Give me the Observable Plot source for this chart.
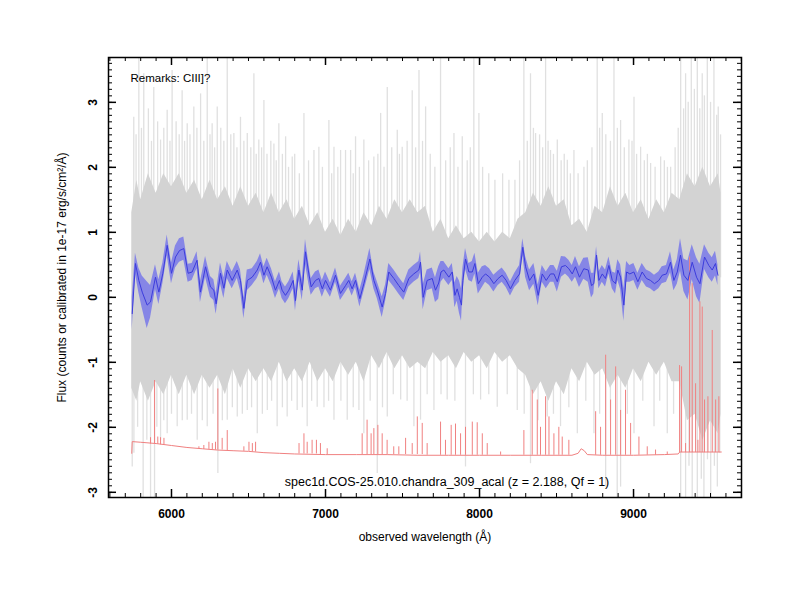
<!DOCTYPE html>
<html><head><meta charset="utf-8">
<script src="https://cdn.jsdelivr.net/npm/d3@7"></script>
<script src="https://cdn.jsdelivr.net/npm/@observablehq/plot@0.6"></script>
<style>body{margin:0;background:#fff} svg{display:block}</style>
</head><body><div id="chart"></div>
<script>
// ---- smoothed spectrum (blue) ----
const blueWave = [5745,5766,5788,5810,5842,5864,5896,5918,5944,5972,6000,6026,6052,6080,6108,6134,6166,6188,6221,6253,6275,6290,6318,6340,6362,6394,6427,6448,6470,6492,6524,6557,6578,6600,6621,6649,6675,6701,6718,6740,6762,6790,6805,6827,6849,6870,6892,6907,6935,6957,6979,7000,7032,7065,7097,7130,7151,7173,7195,7223,7249,7288,7314,7336,7368,7390,7411,7444,7476,7508,7541,7573,7606,7617,7634,7660,7693,7714,7735,7750,7768,7801,7823,7840,7855,7870,7883,7892,7909,7931,7953,7970,7992,8018,8039,8065,8093,8121,8147,8173,8201,8229,8260,8281,8299,8325,8353,8381,8407,8433,8461,8483,8505,8532,8558,8580,8602,8623,8649,8677,8706,8727,8742,8760,8775,8797,8818,8840,8862,8883,8898,8916,8937,8955,8976,9002,9028,9056,9084,9110,9136,9164,9186,9214,9240,9262,9284,9305,9327,9353,9381,9409,9431,9461,9489,9511,9532,9548];
const blueFlux = [-0.25,0.52,0.26,0.08,-0.12,-0.07,0.31,0.08,0.37,0.80,0.37,0.62,0.72,0.75,0.37,0.39,0.57,0.08,0.47,0.16,0.11,-0.10,0.37,0.14,0.42,0.26,0.42,0.26,-0.17,0.26,0.31,0.42,0.54,0.34,0.47,0.31,0.11,0.26,0.11,0.03,0.11,0.26,-0.05,0.42,0.11,0.70,0.36,0.16,0.26,0.29,0.13,0.26,0.11,0.34,0.06,0.18,0.26,0.13,0.26,-0.02,0.21,0.59,0.26,0.11,-0.15,0.06,0.39,0.29,0.18,0.08,0.29,0.36,0.42,0.54,0.00,0.26,0.29,0.11,0.22,0.39,0.42,0.31,0.39,0.03,0.13,0.00,-0.12,0.26,0.59,0.39,0.39,0.52,0.21,0.31,0.36,0.31,0.21,0.29,0.34,0.26,0.13,0.26,0.36,0.77,0.47,0.26,0.36,0.03,0.36,0.26,0.36,0.36,0.24,0.47,0.49,0.44,0.36,0.47,0.31,0.44,0.42,0.18,0.21,0.65,0.26,0.36,0.29,0.49,0.26,0.21,0.42,0.31,-0.12,0.39,0.36,0.39,0.24,0.39,0.29,0.26,0.21,0.26,0.34,0.36,0.54,0.26,0.39,0.65,0.34,0.26,0.54,0.31,0.21,0.62,0.49,0.42,0.52,0.34];
const blueErr = [0.25,0.16,0.19,0.25,0.36,0.25,0.19,0.19,0.16,0.16,0.16,0.17,0.18,0.18,0.14,0.13,0.13,0.16,0.16,0.16,0.16,0.16,0.16,0.16,0.13,0.13,0.13,0.16,0.16,0.16,0.13,0.13,0.13,0.13,0.13,0.13,0.13,0.13,0.13,0.13,0.13,0.13,0.16,0.16,0.16,0.19,0.16,0.13,0.13,0.13,0.13,0.13,0.11,0.11,0.11,0.11,0.11,0.11,0.11,0.13,0.13,0.16,0.13,0.13,0.16,0.13,0.13,0.13,0.13,0.13,0.13,0.13,0.13,0.16,0.19,0.16,0.16,0.19,0.25,0.16,0.13,0.13,0.13,0.19,0.19,0.25,0.25,0.19,0.16,0.13,0.16,0.16,0.16,0.16,0.13,0.13,0.13,0.11,0.11,0.11,0.11,0.11,0.13,0.13,0.16,0.16,0.16,0.16,0.13,0.13,0.13,0.13,0.16,0.16,0.13,0.13,0.13,0.16,0.16,0.16,0.19,0.19,0.16,0.13,0.13,0.13,0.13,0.13,0.13,0.16,0.16,0.19,0.25,0.16,0.13,0.13,0.13,0.13,0.13,0.13,0.13,0.13,0.13,0.13,0.16,0.16,0.19,0.25,0.25,0.30,0.27,0.30,0.30,0.19,0.19,0.19,0.19,0.16];

// ---- raw spectrum (gray): dense core envelope ----
const coreWave = [5742,5775,5800,5850,5900,5950,6000,6050,6100,6150,6200,6250,6300,6350,6400,6450,6500,6550,6600,6650,6700,6750,6800,6850,6900,6950,7000,7050,7100,7150,7200,7250,7300,7350,7400,7450,7500,7550,7600,7650,7700,7750,7800,7850,7900,7950,8000,8050,8100,8150,8200,8250,8300,8350,8400,8450,8500,8550,8600,8650,8700,8750,8800,8850,8900,8950,9000,9050,9100,9150,9200,9250,9300,9350,9400,9450,9500,9550,9568];
const coreHi = [1.3,1.8,1.5,1.9,1.6,1.9,1.7,1.9,1.6,1.8,1.5,1.8,1.5,1.7,1.4,1.7,1.4,1.6,1.3,1.6,1.3,1.5,1.2,1.4,1.1,1.3,1.0,1.2,0.95,1.2,1.0,1.3,1.1,1.4,1.2,1.5,1.3,1.5,1.3,1.4,1.0,1.2,0.9,1.1,0.9,1.0,0.85,1.0,0.85,1.0,0.9,1.2,1.3,1.6,1.4,1.7,1.4,1.5,1.1,1.2,1.0,1.4,1.3,1.7,1.4,1.6,1.3,1.5,1.2,1.5,1.3,1.6,1.5,1.9,1.7,2.0,1.7,1.9,1.6];
const coreLo = [-1.4,-1.6,-1.3,-1.6,-1.3,-1.5,-1.2,-1.5,-1.2,-1.5,-1.2,-1.4,-1.2,-1.5,-1.1,-1.4,-1.1,-1.3,-1.1,-1.3,-1.0,-1.3,-1.1,-1.3,-1.0,-1.3,-1.1,-1.3,-1.0,-1.2,-1.0,-1.3,-0.9,-1.1,-0.85,-1.1,-0.9,-1.1,-1.0,-1.1,-0.85,-1.0,-0.9,-1.1,-0.85,-1.0,-0.9,-1.1,-0.85,-1.0,-0.9,-1.1,-1.2,-1.5,-1.3,-1.6,-1.3,-1.5,-1.1,-1.3,-1.0,-1.2,-1.1,-1.4,-1.2,-1.4,-1.1,-1.3,-1.0,-1.2,-1.0,-1.3,-1.3,-1.9,-1.8,-2.2,-1.9,-2.1,-1.8];
// upward noise spikes
const upWave = [5755,5770,5788,5805,5820,5850,5870,5885,5910,5929,5950,5972,5990,6004,6030,6050,6069,6085,6102,6120,6145,6165,6189,6210,6232,6250,6264,6280,6297,6320,6340,6362,6385,6405,6425,6448,6470,6492,6515,6535,6550,6567,6585,6600,6620,6645,6665,6680,6697,6720,6741,6760,6784,6800,6830,6860,6890,6925,6957,6980,7022,7040,7055,7080,7098,7130,7163,7180,7195,7220,7249,7280,7314,7340,7358,7380,7401,7430,7466,7480,7498,7530,7563,7585,7607,7630,7650,7680,7710,7747,7780,7810,7834,7860,7888,7920,7940,7963,7996,8020,8060,8100,8150,8191,8230,8260,8288,8310,8331,8350,8364,8390,8410,8429,8445,8461,8480,8505,8530,8550,8570,8590,8613,8640,8678,8700,8730,8764,8780,8797,8820,8850,8873,8895,8916,8940,8970,8990,9003,9020,9046,9070,9090,9111,9140,9176,9200,9220,9241,9270,9290,9306,9325,9338,9355,9375,9395,9414,9430,9446,9460,9479,9500,9522,9540,9550,9565];
const upTop = [2.77,2.5,3.8,2.6,3.44,2.9,2.4,3.23,2.7,2.42,2.6,2.88,2.4,3.49,2.7,2.5,3.18,2.4,2.67,2.5,2.93,2.6,3.13,2.4,3.8,2.5,2.67,2.3,2.93,2.6,2.4,3.8,2.5,2.52,2.3,2.77,2.4,2.52,2.3,3.44,2.2,2.42,2.3,3.03,2.2,2.4,2.36,2.1,2.67,2.2,2.47,2.0,2.16,2.2,1.9,2.83,2.1,2.26,2.31,2.0,2.72,1.9,2.31,2.0,2.26,2.26,2.26,1.9,2.47,2.0,2.42,2.1,2.16,2.2,2.83,2.0,3.23,2.3,2.57,2.2,2.31,2.4,3.18,2.3,3.49,2.4,2.93,2.2,2.0,3.8,2.1,2.3,2.52,2.0,2.47,2.1,2.3,3.8,2.83,2.0,1.9,1.8,1.9,1.8,1.8,2.1,3.8,2.4,3.44,2.6,2.52,2.5,2.3,3.8,2.4,2.26,2.2,2.42,2.1,2.2,2.11,1.9,2.26,1.9,2.0,2.1,2.3,3.8,2.6,2.83,2.5,2.4,3.8,2.6,2.72,2.3,2.42,2.4,3.08,2.2,2.31,2.1,2.2,2.06,2.0,2.16,2.1,2.0,2.0,2.3,2.6,3.8,2.9,3.44,3.0,3.8,3.2,3.8,2.9,3.44,3.1,3.8,3.0,3.8,2.8,2.93,2.5];
// downward noise spikes
const downWave = [5745,5756,5780,5816,5840,5864,5890,5905,5929,5950,5972,6000,6037,6070,6102,6130,6167,6200,6232,6270,6301,6330,6362,6395,6427,6460,6492,6520,6557,6590,6622,6650,6686,6720,6751,6780,6816,6850,6881,6910,6946,6990,7020,7055,7100,7141,7180,7217,7249,7290,7336,7370,7401,7440,7488,7530,7574,7617,7660,7704,7750,7790,7840,7909,7960,8007,8060,8115,8180,8245,8290,8331,8380,8440,8480,8526,8580,8635,8690,8743,8780,8819,8850,8894,8916,8960,9003,9060,9133,9170,9219,9260,9306,9338,9360,9381,9414,9440,9457,9480,9501,9525,9544,9560];
const downBot = [-2.61,-2.40,-2.0,-3.2,-2.2,-3.2,-3.2,-2.0,-2.20,-1.9,-2.10,-1.8,-1.99,-1.9,-1.89,-1.8,-2.20,-1.9,-1.99,-1.8,-2.71,-1.9,-1.89,-1.7,-1.84,-1.8,-1.74,-1.7,-2.10,-1.8,-1.74,-1.6,-1.99,-1.7,-1.84,-1.6,-1.74,-1.7,-1.99,-1.6,-1.69,-1.7,-1.6,-1.89,-1.6,-1.89,-1.7,-1.74,-2.10,-1.6,-2.71,-1.7,-1.84,-1.5,-1.58,-1.6,-1.99,-1.89,-1.5,-1.74,-1.5,-1.58,-1.6,-2.61,-1.5,-1.58,-1.5,-1.69,-1.5,-1.74,-1.8,-2.56,-1.9,-1.84,-1.8,-1.99,-1.7,-2.10,-1.6,-2.10,-1.8,-2.92,-1.9,-3.2,-2.92,-1.8,-2.10,-1.6,-1.99,-1.6,-2.10,-1.8,-3.2,-3.2,-2.6,-3.2,-3.2,-2.8,-3.2,-2.5,-3.2,-2.6,-2.92,-2.4];

// ---- sky spectrum (red) ----
const skyBaseWave = [5742,5745,5800,5900,6000,6100,6200,6300,6400,6500,6600,6700,6800,7000,7200,7400,7600,7800,8000,8200,8400,8600,8640,8660,8680,8700,8800,9000,9200,9290,9300,9400,9570];
const skyBaseFlux = [-2.40,-2.22,-2.23,-2.25,-2.28,-2.31,-2.33,-2.35,-2.36,-2.37,-2.39,-2.40,-2.41,-2.42,-2.42,-2.42,-2.43,-2.43,-2.43,-2.43,-2.43,-2.43,-2.40,-2.33,-2.36,-2.42,-2.43,-2.43,-2.42,-2.41,-2.38,-2.38,-2.38];
const skyLineWave = [5864,5890,5911,5929,5951,6178,6210,6243,6265,6286,6301,6329,6362,6470,6503,6525,6546,6828,6860,6881,6913,6941,6967,7011,7238,7270,7296,7314,7340,7368,7400,7443,7476,7520,7563,7596,7628,7660,7747,7779,7816,7844,7877,7909,7953,7985,8018,8050,8137,8288,8342,8375,8396,8429,8451,8483,8515,8537,8580,8754,8786,8819,8851,8884,8916,8948,8981,9035,9089,9143,9219,9299,9312,9338,9364,9381,9403,9418,9431,9446,9461,9483,9511,9533,9554];
const skyLinePeak = [-2.16,-1.28,-2.15,-2.16,-2.17,-2.30,-2.28,-2.23,-2.25,-2.23,-1.41,-2.17,-2.05,-2.30,-2.23,-2.25,-2.23,-2.25,-2.10,-2.23,-2.20,-2.20,-2.25,-2.33,-2.10,-1.89,-2.10,-2.02,-1.97,-2.10,-2.20,-2.30,-2.30,-2.17,-2.25,-1.84,-1.94,-2.25,-1.92,-2.20,-1.97,-1.95,-2.10,-2.00,-1.92,-1.93,-2.10,-2.25,-2.38,-2.05,-1.43,-1.58,-2.00,-1.53,-1.84,-2.10,-2.00,-2.15,-2.20,-1.76,-2.00,-0.89,-1.58,-1.07,-1.74,-1.43,-1.94,-2.15,-2.30,-2.35,-2.38,-1.05,-1.07,-2.25,0.62,0.21,-1.33,-2.20,-0.07,-0.15,-1.58,-1.53,-0.51,-1.58,-1.53];
const skyLineBase = [-2.26,-2.26,-2.26,-2.27,-2.27,-2.33,-2.34,-2.34,-2.35,-2.35,-2.35,-2.35,-2.36,-2.37,-2.37,-2.38,-2.38,-2.41,-2.41,-2.41,-2.41,-2.41,-2.42,-2.42,-2.42,-2.42,-2.42,-2.42,-2.42,-2.42,-2.42,-2.42,-2.42,-2.42,-2.42,-2.42,-2.42,-2.43,-2.43,-2.43,-2.43,-2.43,-2.43,-2.43,-2.43,-2.43,-2.43,-2.43,-2.43,-2.43,-2.43,-2.43,-2.43,-2.43,-2.43,-2.43,-2.43,-2.43,-2.43,-2.43,-2.43,-2.43,-2.43,-2.43,-2.43,-2.43,-2.43,-2.43,-2.43,-2.43,-2.42,-2.39,-2.39,-2.39,-2.39,-2.39,-2.39,-2.39,-2.39,-2.39,-2.39,-2.39,-2.39,-2.39,-2.39];

// ---- axes ----
const xMajor = [6000,7000,8000,9000];
const yMajor = [-3,-2,-1,0,1,2,3];
const xMinor = d3.range(5600, 9701, 100);
const yMinor = d3.range(-30, 37).map(d => d / 10);

const remarks = "Remarks: CIII]?";
const caption = "spec1d.COS-25.010.chandra_309_acal (z = 2.188, Qf = 1)";
const xTitle = "observed wavelength (Å)";
const yTitle = "Flux (counts or calibrated in 1e-17 erg/s/cm²/Å)";

// ---- build tables ----
const blue = blueWave.map((x, i) => ({x, y: blueFlux[i], lo: blueFlux[i] - blueErr[i], hi: blueFlux[i] + blueErr[i]}));
const core = coreWave.map((x, i) => ({x, lo: coreLo[i], hi: coreHi[i]}));
const spikes = upWave.map((x, i) => ({x, a: 0.3, b: upTop[i]}))
  .concat(downWave.map((x, i) => ({x, a: 0.1, b: downBot[i]})));
const skyBase = skyBaseWave.map((x, i) => ({x, y: skyBaseFlux[i]}));
const skyLines = skyLineWave.map((x, i) => ({x, base: skyLineBase[i], peak: skyLinePeak[i]}));

const W = 800, H = 600, mL = 108, mR = 59, mT = 57, mB = 103;
const iW = W - mL - mR, iH = H - mT - mB;
const font = "'Liberation Sans', Arial, Helvetica, sans-serif";

const chart = Plot.plot({
  width: W, height: H,
  marginLeft: mL, marginRight: mR, marginTop: mT, marginBottom: mB,
  style: {fontFamily: font, background: "white", color: "black"},
  x: {domain: [5591, 9701], axis: null},
  y: {domain: [-3.08, 3.69], axis: null},
  marks: [
    Plot.ruleX(spikes, {x: "x", y1: "a", y2: "b", stroke: "#e0e0e0", strokeWidth: 1.3, clip: true}),
    Plot.areaY(core, {x: "x", y1: "lo", y2: "hi", fill: "#d3d3d3"}),
    Plot.areaY(blue, {x: "x", y1: "lo", y2: "hi", fill: "#8686e6"}),
    Plot.line(skyBase, {x: "x", y: "y", stroke: "#f08080", strokeWidth: 1}),
    Plot.ruleX(skyLines, {x: "x", y1: "base", y2: "peak", stroke: "#f08080", strokeWidth: 1}),
    Plot.line(blue, {x: "x", y: "y", stroke: "#3c3cdc", strokeWidth: 1}),
    // ticks, inward on all four sides
    Plot.ruleX(xMinor, {x: d => d, insetTop: iH - 4, stroke: "black"}),
    Plot.ruleX(xMinor, {x: d => d, insetBottom: iH - 4, stroke: "black"}),
    Plot.ruleX(xMajor, {x: d => d, insetTop: iH - 8, stroke: "black", strokeWidth: 1.5}),
    Plot.ruleX(xMajor, {x: d => d, insetBottom: iH - 8, stroke: "black", strokeWidth: 1.5}),
    Plot.ruleY(yMinor, {y: d => d, insetRight: iW - 4, stroke: "black"}),
    Plot.ruleY(yMinor, {y: d => d, insetLeft: iW - 4, stroke: "black"}),
    Plot.ruleY(yMajor, {y: d => d, insetRight: iW - 8, stroke: "black", strokeWidth: 1.5}),
    Plot.ruleY(yMajor, {y: d => d, insetLeft: iW - 8, stroke: "black", strokeWidth: 1.5}),
    Plot.frame({stroke: "black", strokeWidth: 1.5}),
    // tick labels
    Plot.text(xMajor, {x: d => d, frameAnchor: "bottom", dy: 20, text: d => String(d), fontWeight: "bold", fontSize: 12, fill: "black"}),
    Plot.text(yMajor, {y: d => d, frameAnchor: "left", dx: -15, rotate: -90, textAnchor: "middle", text: d => String(d), fontWeight: "bold", fontSize: 12, fill: "black"}),
    // titles
    Plot.text([xTitle], {frameAnchor: "bottom", dy: 43, text: d => d, fontSize: 12, fill: "black"}),
    Plot.text([yTitle], {frameAnchor: "left", dx: -46, rotate: -90, textAnchor: "middle", text: d => d, fontSize: 12, fill: "black"}),
    Plot.text([remarks], {frameAnchor: "top-left", dx: 22, dy: 16, textAnchor: "start", text: d => d, fontSize: 11.5, fill: "black"}),
    Plot.text([caption], {frameAnchor: "bottom", dx: 22, dy: -12, text: d => d, fontSize: 12.5, fill: "black"})
  ]
});
document.getElementById("chart").append(chart);
</script>
</body></html>
